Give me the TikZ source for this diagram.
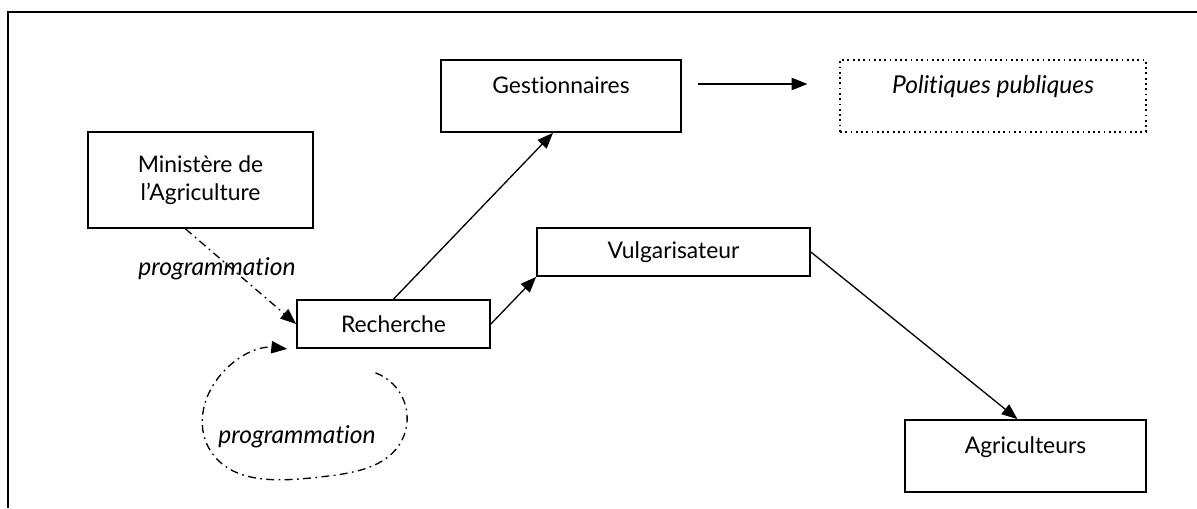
\documentclass[tikz,border=0pt]{standalone}
\usepackage{fontspec}
\setmainfont{Lato}[Ligatures=NoCommon]
\usetikzlibrary{arrows.meta,hobby}

\begin{document}
\begin{tikzpicture}[
  x=0.02cm,
  y=-0.02cm,
  font=\fontsize{13}{16}\selectfont,
  box/.style={
    draw,
    line width=1pt,
    align=center,
    inner sep=0pt
  },
  topbox/.style={box, text height=.66cm, text depth=.78cm},
  arr/.style={-{Triangle[length=9pt,width=7pt]}, line width=.75pt},
  dashdot/.style={arr, dash pattern=on 4.5pt off 2.5pt on 1pt off 2.5pt},
  lbl/.style={font=\fontsize{14}{16}\selectfont\itshape}
]
\useasboundingbox (0,0) rectangle (1197,508);
\draw[line width=1.4pt] (1197,12) -| (8,508);
  \node[box, minimum width=4.5cm, minimum height=1.92cm] (mini) at (200.5,180) {Ministère de\\l’Agriculture};
  \node[box, minimum width=3.86cm, minimum height=.96cm] (rech) at (393.5,324) {Recherche};
  \node[topbox, minimum width=4.8cm] (gest) at (561,96) {Gestionnaires};
  \node[box, minimum width=5.46cm, minimum height=.96cm] (vulg) at (673.5,252) {Vulgarisateur};
  \node[topbox, dotted, line width=.7pt, minimum width=6.12cm, font=\fontsize{14}{16}\selectfont\itshape] (pol) at (993,96) {Politiques publiques};
  \node[topbox, minimum width=4.82cm] (agri) at (1025.5,456) {Agriculteurs};
  \draw[arr] (rech.north) -- ([shift={(-8,0)}]gest.south);
  \draw[arr] (rech.east) -- (vulg.south west);
  \draw[arr] ([shift={(16,-12)}]gest.east) -- ([shift={(-32,-12)}]pol.west);
  \draw[arr] (vulg.east) -- ([shift={(-8,0)}]agri.north);
  \draw[dashdot] ([shift={(-15,0)}]mini.south) -- (rech.west)
    node[lbl, pos=.42, shift={(-15,0)}] (progmini) {programmation};
  \draw[dashdot, use Hobby shortcut] ([shift={(-18,24)}]rech.south) .. (402,440) .. (320,477)
    .. (210,450) .. (208,395) .. ([shift={(-9,0)}]rech.south west);
  \node[lbl] (progloop) at (297,437) {programmation};
\end{tikzpicture}
\end{document}
